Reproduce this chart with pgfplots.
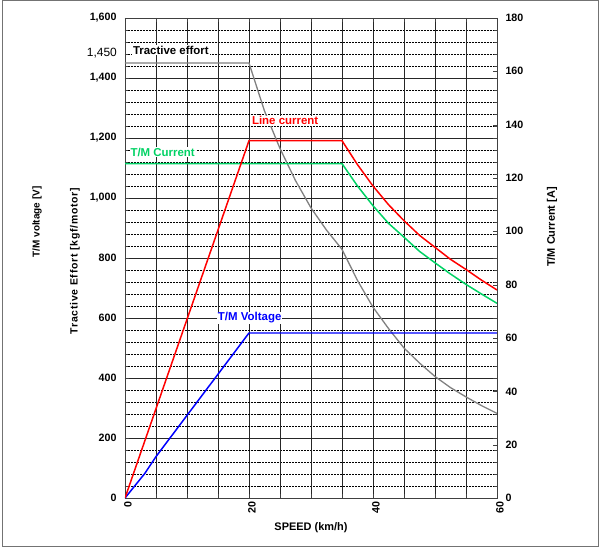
\documentclass[border=0pt]{standalone}
\usepackage{fontspec}
\setmainfont{Liberation Sans}
\usepackage{pgfplots}
\pgfplotsset{compat=1.18}
\definecolor{tegray}{RGB}{128,128,128}
\definecolor{tmgreen}{RGB}{0,210,100}
\definecolor{lcred}{RGB}{255,0,0}
\definecolor{tvblue}{RGB}{0,0,255}
\newcommand{\tickfont}{\fontsize{10.7}{12}\selectfont\bfseries}
\newcommand{\labfont}{\fontsize{11.5}{13}\selectfont\bfseries}
\begin{document}
\begin{tikzpicture}
\useasboundingbox (-125bp,-50bp) rectangle (479bp,498bp);
\draw[black!55, line width=0.8pt] (-123bp,-48bp) rectangle (473bp,497.5bp);
\begin{axis}[
  scale only axis, width=372bp, height=480bp,
  xmin=0, xmax=60, ymin=0, ymax=1600,
  xtick={0,20,40,60}, ytick={0,200,...,1600},
  minor y tick num=4,
  extra x ticks={5,10,15,25,30,35,45,50,55},
  extra x tick labels={},
  extra x tick style={grid=major},
  xmajorgrids, ymajorgrids, yminorgrids,
  major grid style={black!85, line width=0.75pt},
  minor grid style={black, line width=0.6pt, dash pattern=on 2pt off 1pt},
  axis line style={black!75, line width=0.8pt},
  tick style={black!75},
  tick align=inside,
  /pgf/number format/assume math mode=true,
  /pgf/number format/1000 sep={,},
  y tick label style={font=\tickfont, xshift=-5bp},
  x tick label style={font=\tickfont, rotate=90, anchor=east, yshift=-3bp},
]
\addplot[tegray, line width=1.3pt] coordinates {
 (0,1450) (20,1450) (22.5,1290) (25,1165) (27.5,1058) (30,967) (32.5,893)
 (35,829) (37.5,725) (40,636) (42.5,565) (45,500) (47.5,450) (50,405)
 (52.5,368) (55,337) (57.5,308) (60,282)};
\addplot[tvblue, line width=1.5pt] coordinates {
 (0,0) (3.2,82) (5,138) (20,550) (60,550)};
\node[anchor=west, fill=white, inner sep=1bp, font=\labfont] at (axis cs:1.1,1493) {Tractive effort};
\node[anchor=west, fill=white, inner sep=1bp, font=\labfont, text=tvblue] at (axis cs:14.8,600) {T/M Voltage};
\node[anchor=west, fill=white, inner sep=1bp, font=\labfont, text=lcred] at (axis cs:20.3,1257) {Line current};
\node[anchor=west, fill=white, inner sep=1bp, font=\labfont, text=tmgreen] at (axis cs:0.7,1153) {T/M Current};
\end{axis}
\begin{axis}[
  scale only axis, width=372bp, height=480bp,
  xmin=0, xmax=60, ymin=0, ymax=180,
  ytick={0,20,...,180},
  hide x axis, axis y line*=right,
  axis line style={black!75, line width=0.8pt},
  tick style={black!75},
  tick align=inside,
  /pgf/number format/assume math mode=true,
  y tick label style={font=\tickfont, xshift=5bp},
]
\addplot[tmgreen, line width=1.5pt] coordinates {
 (0,125.4) (35,125.4) (37.5,117) (40,109.6) (42.5,103) (45,97.8) (47.5,92.5)
 (50,88.2) (52.5,84) (55,80.1) (57.5,76.5) (60,73)};
\addplot[lcred, line width=1.5pt] coordinates {
 (0,0) (20,134) (35,134) (37.5,125) (40,117) (42.5,110) (45,104) (47.5,98.5)
 (50,94) (52.5,89.5) (55,85.7) (57.5,81.7) (60,78)};
\end{axis}
\node[anchor=east, inner sep=0pt, font=\fontsize{12}{14}\selectfont] at (-8bp,445bp) {1,450};
\node[rotate=90, font=\fontsize{10}{12}\selectfont\bfseries] at (-88bp,276bp) {T/M voltage [V]};
\node[rotate=90, font=\fontsize{10.5}{12}\selectfont\bfseries\addfontfeatures{LetterSpace=7}] at (-50bp,237bp) {Tractive Effort [kgf/motor]};
\node[rotate=90, font=\fontsize{11}{13}\selectfont\bfseries] at (427bp,271bp) {T/M Current [A]};
\node[font=\fontsize{11}{13}\selectfont\bfseries] at (186bp,-30bp) {SPEED (km/h)};
\end{tikzpicture}
\end{document}
